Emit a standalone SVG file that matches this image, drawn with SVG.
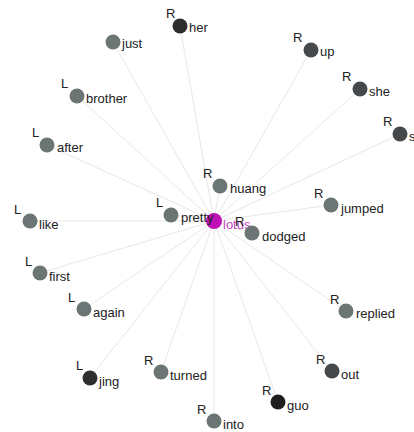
<svg xmlns="http://www.w3.org/2000/svg" width="414" height="432" viewBox="0 0 414 432">
<style>
text{font-family:"Liberation Sans",Arial,sans-serif;font-size:13px;fill:#222}
.e line{stroke:#e8e8e8;stroke-width:1}
.g{fill:#6b7574}
.d{fill:#45494b}
.k{fill:#2e2e2e}
</style>
<rect width="414" height="432" fill="#fff"/>
<g class="e" id="connectors">
<line x1="214" y1="221" x2="113" y2="42"/>
<line x1="214" y1="221" x2="180" y2="26"/>
<line x1="214" y1="221" x2="311" y2="50"/>
<line x1="214" y1="221" x2="360" y2="89"/>
<line x1="214" y1="221" x2="400" y2="134"/>
<line x1="214" y1="221" x2="77" y2="96"/>
<line x1="214" y1="221" x2="47" y2="145"/>
<line x1="214" y1="221" x2="30" y2="221"/>
<line x1="214" y1="221" x2="220" y2="186"/>
<line x1="214" y1="221" x2="171" y2="215"/>
<line x1="214" y1="221" x2="252" y2="233"/>
<line x1="214" y1="221" x2="331" y2="205"/>
<line x1="214" y1="221" x2="346" y2="311"/>
<line x1="214" y1="221" x2="40" y2="273"/>
<line x1="214" y1="221" x2="84" y2="309"/>
<line x1="214" y1="221" x2="90" y2="378"/>
<line x1="214" y1="221" x2="161" y2="372"/>
<line x1="214" y1="221" x2="214" y2="421"/>
<line x1="214" y1="221" x2="278" y2="402"/>
<line x1="214" y1="221" x2="332" y2="371"/>
</g>
<g id="n-lotus"><circle fill="#c012b4" cx="214" cy="221" r="8"/><text x="223" y="229" style="fill:#c84ac0">lotus</text></g>
<g id="n-just"><circle class="g" cx="113" cy="42" r="7.5"/><text x="122" y="48">just</text></g>
<g id="n-her"><circle class="k" cx="180" cy="26" r="7.5"/><text x="166" y="18">R</text><text x="189" y="32">her</text></g>
<g id="n-up"><circle class="d" cx="311" cy="50" r="7.5"/><text x="293" y="42">R</text><text x="320" y="56">up</text></g>
<g id="n-she"><circle class="d" cx="360" cy="89" r="7.5"/><text x="342" y="81">R</text><text x="369" y="96">she</text></g>
<g id="n-s"><circle class="d" cx="400" cy="134" r="7.5"/><text x="383" y="126">R</text><text x="409" y="141">s</text></g>
<g id="n-brother"><circle class="g" cx="77" cy="96" r="7.5"/><text x="61" y="88">L</text><text x="86" y="103">brother</text></g>
<g id="n-after"><circle class="g" cx="47" cy="145" r="7.5"/><text x="32" y="137">L</text><text x="57" y="152">after</text></g>
<g id="n-like"><circle class="g" cx="30" cy="221" r="7.5"/><text x="14" y="214">L</text><text x="39" y="229">like</text></g>
<g id="n-huang"><circle class="g" cx="220" cy="186" r="7.5"/><text x="203" y="178">R</text><text x="230" y="193">huang</text></g>
<g id="n-pretty"><circle class="g" cx="171" cy="215" r="7.5"/><text x="156" y="207">L</text><text x="181" y="222">pretty</text></g>
<g id="n-dodged"><circle class="g" cx="252" cy="233" r="7.5"/><text x="235" y="226">R</text><text x="262" y="241">dodged</text></g>
<g id="n-jumped"><circle class="g" cx="331" cy="205" r="7.5"/><text x="314" y="198">R</text><text x="341" y="213">jumped</text></g>
<g id="n-replied"><circle class="g" cx="346" cy="311" r="7.5"/><text x="330" y="304">R</text><text x="356" y="318">replied</text></g>
<g id="n-first"><circle class="g" cx="40" cy="273" r="7.5"/><text x="25" y="266">L</text><text x="49" y="281">first</text></g>
<g id="n-again"><circle class="g" cx="84" cy="309" r="7.5"/><text x="68" y="302">L</text><text x="93" y="317">again</text></g>
<g id="n-jing"><circle class="k" cx="90" cy="378" r="7.5"/><text x="76" y="370">L</text><text x="99" y="386">jing</text></g>
<g id="n-turned"><circle class="g" cx="161" cy="372" r="7.5"/><text x="144" y="365">R</text><text x="170" y="380">turned</text></g>
<g id="n-into"><circle class="g" cx="214" cy="421" r="7.5"/><text x="197" y="414">R</text><text x="223" y="429">into</text></g>
<g id="n-guo"><circle fill="#1e1e1e" cx="278" cy="402" r="7.5"/><text x="262" y="395">R</text><text x="287" y="410">guo</text></g>
<g id="n-out"><circle class="d" cx="332" cy="371" r="7.5"/><text x="316" y="364">R</text><text x="341" y="379">out</text></g>
</svg>
